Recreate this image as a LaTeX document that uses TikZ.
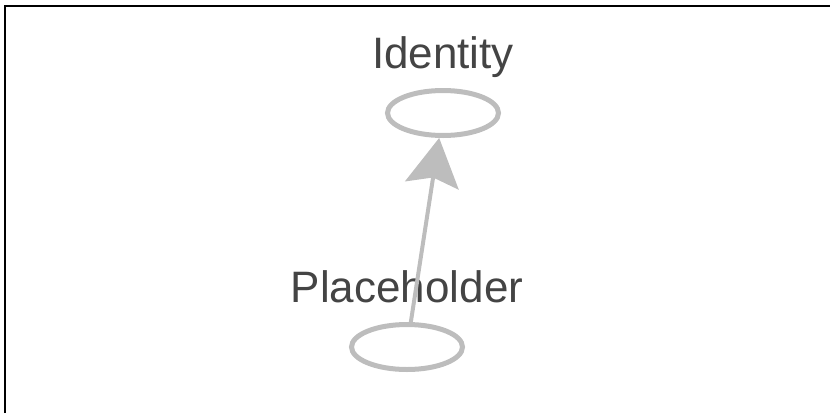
\documentclass[tikz,border=0pt]{standalone}
\usepackage{fontspec}
\setmainfont{Liberation Sans}
\usetikzlibrary{shapes.geometric,arrows.meta}
\definecolor{edgegray}{HTML}{BDBDBD}
\definecolor{textgray}{HTML}{444444}
\begin{document}
\begin{tikzpicture}[x=1pt,y=-1pt,
  opnode/.style={ellipse,draw=edgegray,line width=5pt,minimum width=111pt,minimum height=45pt,inner sep=0pt},
  oplabel/.style={text=textgray,font=\fontsize{44}{44}\selectfont,inner sep=0pt,anchor=base},
  flow/.style={draw=edgegray,line width=4pt,-{Stealth[length=48pt,width=54pt,inset=8pt]}}]
\useasboundingbox (0,0) rectangle (830,413);
\draw[line width=2pt,black] (5,413) -- (5,6) -- (830,6);
\node[opnode] (id) at (443,113) {};
\node[opnode] (ph) at (407,347) {};
\node[oplabel] (idl) at (443,68) {Identity};
\node[oplabel] (phl) at (407,302) {Placeholder};
\draw[flow] (ph) -- (id);
\end{tikzpicture}
\end{document}
